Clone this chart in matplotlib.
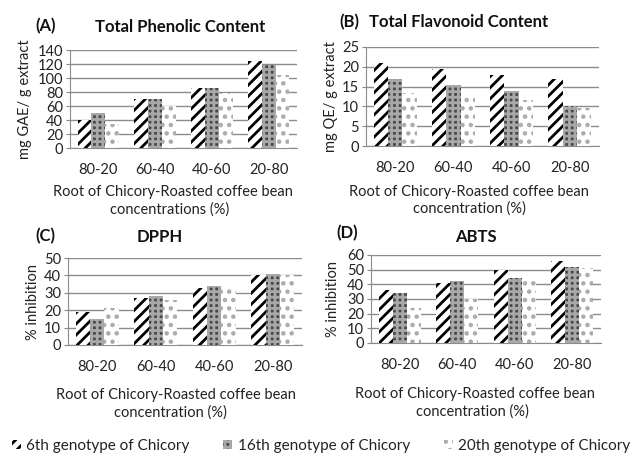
import matplotlib
matplotlib.use("Agg")
import matplotlib.pyplot as plt
import numpy as np
from matplotlib.patches import Patch

plt.rcParams['font.family'] = ['Lato', 'DejaVu Sans']
plt.rcParams['hatch.linewidth'] = 2.0

categories = ["80-20", "60-40", "40-60", "20-80"]
series_names = ["6th genotype of Chicory", "16th genotype of Chicory", "20th genotype of Chicory"]

tpc_6 = [40, 70, 86, 124]
tpc_16 = [50, 70, 86, 118]
tpc_20 = [35, 60, 78, 105]

tfc_6 = [21, 19.5, 18, 17]
tfc_16 = [17, 15.5, 14, 10]
tfc_20 = [13.5, 12.5, 11.5, 9.5]

dpph_6 = [19, 27, 33, 40]
dpph_16 = [15, 28, 34, 41]
dpph_20 = [21, 26, 32, 40]

abts_6 = [36, 41, 50, 56]
abts_16 = [34, 42, 44, 52]
abts_20 = [24, 30, 44, 51]

W, H = 632, 453
fig = plt.figure(figsize=(W / 100, H / 100), dpi=100)
fig.patch.set_facecolor('white')


def px_axes(l, t, r, b):
    return fig.add_axes([l / W, 1 - b / H, (r - l) / W, (b - t) / H])


def ftext(x, y, s, **kw):
    fig.text(x / W, 1 - y / H, s, **kw)


styles = [
    dict(facecolor='white', edgecolor='black', hatch='///', linewidth=0),
    dict(facecolor='#484848', edgecolor='#a8a8a8', hatch='+++', linewidth=0),
    dict(facecolor='white', edgecolor='#ababab', hatch='..', linewidth=0),
]

lblkw = dict(fontsize=10.5, color='#222222', ha='center', va='center')


def panel(box, data, ymax, step, ylabel, ylab_x, xlab_lines, xlab_pos):
    ax = px_axes(*box)
    x = np.arange(len(categories))
    w = 0.245
    for i, vals in enumerate(data):
        ax.bar(x + (i - 1) * w, vals, width=w, zorder=3, **styles[i])
    ax.set_xlim(-0.5, len(categories) - 0.5)
    ax.set_ylim(0, ymax)
    ax.set_yticks(np.arange(0, ymax + 0.01, step))
    ax.set_xticks(x)
    ax.set_xticklabels(categories, fontsize=10.5, color='#222222')
    ax.tick_params(axis='x', length=0, pad=11)
    ax.tick_params(axis='y', length=3, color='#888888', labelsize=10.5, labelcolor='#222222', pad=2)
    ax.grid(axis='y', color='#8c8c8c', linewidth=1, zorder=0)
    for s in ['top', 'right']:
        ax.spines[s].set_visible(False)
    for s in ['left', 'bottom']:
        ax.spines[s].set_color('#8c8c8c')
    ax.set_ylabel(ylabel, fontsize=10.5, color='#222222')
    l, t, r, b = box
    ax.yaxis.set_label_coords((ylab_x + 7 - l) / (r - l), 0.5)
    for line, (xx, yy) in zip(xlab_lines, xlab_pos):
        ftext(xx, yy, line, **lblkw)
    return ax


panel((70, 50, 297, 148), [tpc_6, tpc_16, tpc_20], 140, 20, "mg GAE/ g extract", 25,
      ["Root of Chicory-Roasted coffee bean", "concentrations (%)"], [(173, 192), (170, 210)])
panel((366, 47, 599, 146), [tfc_6, tfc_16, tfc_20], 25, 5, "mg QE/ g extract", 331,
      ["Root of Chicory-Roasted coffee bean", "concentration (%)"], [(469, 192), (469, 209)])
panel((68, 258, 302, 345), [dpph_6, dpph_16, dpph_20], 50, 10, "% inhibition", 33,
      ["Root of Chicory-Roasted coffee bean", "concentration (%)"], [(176, 395), (170, 413)])
panel((371, 255, 601, 343), [abts_6, abts_16, abts_20], 60, 10, "% inhibition", 333,
      ["Root of Chicory-Roasted coffee bean", "concentration (%)"], [(475, 394), (472, 412)])

tkw = dict(fontsize=12, fontweight='bold', va='center', color='#111111')
ftext(35, 26, "(A)", ha='left', **tkw)
ftext(180, 27, "Total Phenolic Content", ha='center', **tkw)
ftext(339, 22, "(B)", ha='left', **tkw)
ftext(369, 22, "Total Flavonoid Content", ha='left', **tkw)
ftext(35, 236, "(C)", ha='left', **tkw)
ftext(160, 237, "DPPH", ha='center', **tkw)
ftext(336, 233, "(D)", ha='left', **tkw)
ftext(476, 237, "ABTS", ha='center', **tkw)

handles = [Patch(**styles[i]) for i in range(3)]
fig.legend(handles, series_names, loc='center', bbox_to_anchor=(321 / W, 1 - 446 / H), ncol=3,
           frameon=False, fontsize=11, handlelength=0.6, handleheight=0.6,
           handletextpad=0.35, columnspacing=2.2, labelcolor='#222222')

fig.savefig("out.png", dpi=100)
